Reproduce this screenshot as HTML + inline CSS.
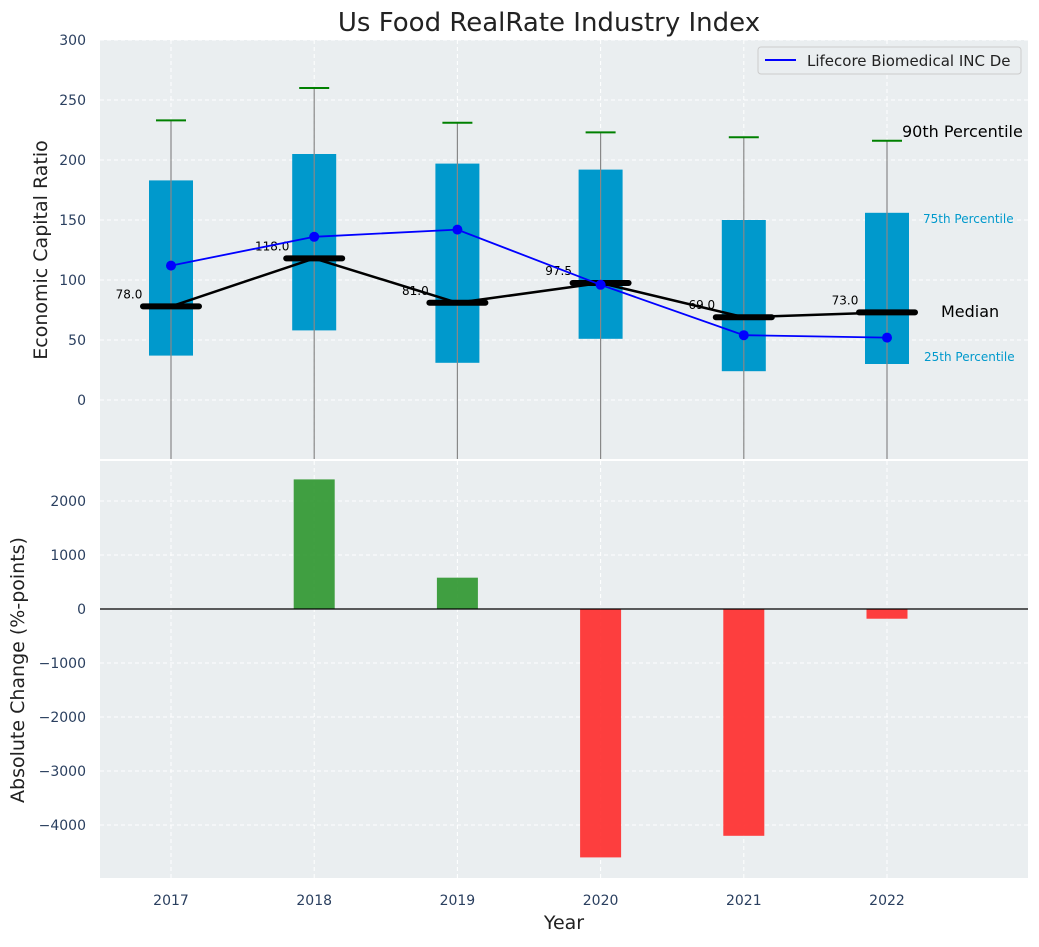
<!DOCTYPE html>
<html><head><meta charset="utf-8"><style>
body{margin:0;background:#fff;}
svg{font-family:"DejaVu Sans","Liberation Sans",sans-serif;}
</style></head><body>
<svg id="chart" width="1039" height="942" xmlns="http://www.w3.org/2000/svg">
<text x="549" y="31" font-size="26" text-anchor="middle" fill="#222">Us Food RealRate Industry Index</text>
<rect x="100" y="40" width="928" height="419" fill="#eaeef0"/>
<rect x="100" y="461" width="928" height="417" fill="#eaeef0"/>
<g id="topg"></g><g id="botg"></g>
<text x="47" y="250" font-size="19" fill="#222" text-anchor="middle" transform="rotate(-90 47 250)">Economic Capital Ratio</text>
<text x="24" y="670" font-size="19" fill="#222" text-anchor="middle" transform="rotate(-90 24 670)">Absolute Change (%-points)</text>
<text x="564" y="929" font-size="19" fill="#222" text-anchor="middle">Year</text>
<g>
<rect x="758" y="47" width="263" height="27" rx="3" fill="#eaeef0" stroke="#ccc"/>
<line x1="765" y1="60" x2="796" y2="60" stroke="#0000ff" stroke-width="2"/>
<text x="807" y="66" font-size="15" fill="#222">Lifecore Biomedical INC De</text>
</g>
<text x="902" y="137" font-size="16" fill="#000">90th Percentile</text>
<text x="923" y="223" font-size="12" fill="#0099cc">75th Percentile</text>
<text x="941" y="317" font-size="16" fill="#000">Median</text>
<text x="924" y="361" font-size="12" fill="#0099cc">25th Percentile</text>
</svg>
<script>
const years=[2017,2018,2019,2020,2021,2022];
const p90=[233,260,231,223,219,216];
const p75=[183,205,197,192,150,156];
const p25=[37,58,31,51,24,30];
const medians=[78,118,81,97.5,69,73];
const company=[112,136,142,96,54,52];
const changes=[0,2400,580,-4600,-4200,-180];
const topTicks=[0,50,100,150,200,250,300];
const botTicks=[-4000,-3000,-2000,-1000,0,1000,2000];
const NS="http://www.w3.org/2000/svg";
const X=i=>171+(i)*143.2;
const Yt=v=>400-v*1.2;
const Yb=v=>609-v*0.054;
function mk(parent,tag,attrs,text){const e=document.createElementNS(NS,tag);for(const k in attrs)e.setAttribute(k,attrs[k]);if(text!==undefined)e.textContent=text;parent.appendChild(e);return e;}
const tg=document.getElementById('topg'),bg=document.getElementById('botg');
years.forEach((y,i)=>{
 mk(tg,'line',{x1:X(i),x2:X(i),y1:40,y2:459,stroke:'#fff','stroke-dasharray':'4,3'});
 mk(bg,'line',{x1:X(i),x2:X(i),y1:461,y2:878,stroke:'#fff','stroke-dasharray':'4,3'});
 const t=mk(bg,'text',{x:X(i),y:905,'font-size':14,fill:'#2a3f5f','text-anchor':'middle'},y);
 
 
});
topTicks.forEach(v=>{
 mk(tg,'line',{x1:100,x2:1028,y1:Yt(v),y2:Yt(v),stroke:'#fff','stroke-dasharray':'4,3'});
 const t=mk(tg,'text',{x:86,y:Yt(v)+5,'font-size':14,fill:'#2a3f5f','text-anchor':'end'},v);
 
 
});
botTicks.forEach(v=>{
 mk(bg,'line',{x1:100,x2:1028,y1:Yb(v),y2:Yb(v),stroke:'#fff','stroke-dasharray':'4,3'});
 const t=mk(bg,'text',{x:86,y:Yb(v)+5,'font-size':14,fill:'#2a3f5f','text-anchor':'end'},(v<0?'\u2212'+(-v):v));
 
 
});
years.forEach((y,i)=>{
 const b=mk(tg,'rect',{x:X(i)-22,y:Yt(p75[i]),width:44,height:Yt(p25[i])-Yt(p75[i]),fill:'#0099cc'});
 
 
 mk(tg,'line',{x1:X(i),x2:X(i),y1:Yt(p90[i]),y2:459,stroke:'#888','stroke-width':1.2});
 const c=mk(tg,'line',{x1:X(i)-15,x2:X(i)+15,y1:Yt(p90[i]),y2:Yt(p90[i]),stroke:'#008000','stroke-width':2});
 
 
});
mk(tg,'polyline',{points:medians.map((m,i)=>X(i)+','+Yt(m)).join(' '),fill:'none',stroke:'#000','stroke-width':2.5});
years.forEach((y,i)=>{
 const m=mk(tg,'line',{x1:X(i)-28,x2:X(i)+28,y1:Yt(medians[i]),y2:Yt(medians[i]),stroke:'#000','stroke-width':6,'stroke-linecap':'round'});
 
 
 const t=mk(tg,'text',{x:X(i)-42,y:Yt(medians[i])-8,'font-size':12,fill:'#000','text-anchor':'middle'},medians[i].toFixed(1));
 
 
});
const cl=mk(tg,'polyline',{points:company.map((v,i)=>X(i)+','+Yt(v)).join(' '),fill:'none',stroke:'#0000ff','stroke-width':1.8});


company.forEach((v,i)=>{
 const p=mk(tg,'circle',{cx:X(i),cy:Yt(v),r:5,fill:'#0000ff'});
 
 
});
changes.forEach((v,i)=>{
 if(v===0)return;
 const y0=Yb(Math.max(v,0)),h=Math.abs(Yb(v)-Yb(0));
 const r=mk(bg,'rect',{x:X(i)-20.5,y:y0,width:41,height:h,fill:v>0?'#2e962e':'#ff2a2a','fill-opacity':0.9});
 
 
});
mk(bg,'line',{x1:100,x2:1028,y1:Yb(0),y2:Yb(0),stroke:'#000','stroke-width':1.2});
</script>
</body></html>
